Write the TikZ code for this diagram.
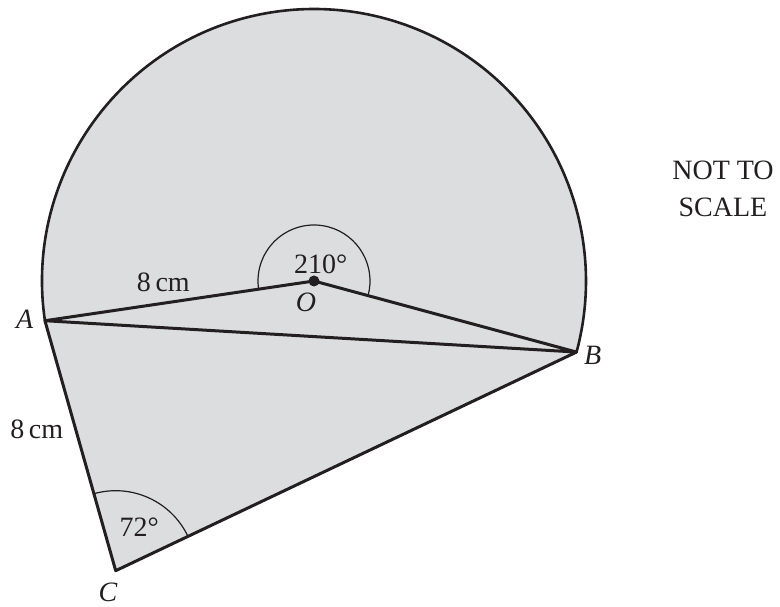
\documentclass[tikz,border=0pt]{standalone}
\usepackage{fontspec}
\setmainfont{Liberation Serif}
\usetikzlibrary{calc}
\definecolor{regiongray}{RGB}{220,221,223}
\definecolor{ink}{RGB}{35,31,32}
\begin{document}
\begin{tikzpicture}[x=1pt,y=1pt,
  region/.style={fill=regiongray, draw=none},
  edge/.style={ink, line width=3pt, line join=round, line cap=round},
  rim/.style={ink, line width=2.6pt, line cap=round},
  anglemark/.style={ink, line width=1.2pt},
  lbl/.style={ink, font=\fontsize{28}{34}\selectfont, inner sep=0pt, anchor=base}]
\useasboundingbox (0,0) rectangle (780,607);
\coordinate (O) at (314,326);
\coordinate (A) at ($(O)+(188.4:272)$);
\coordinate (B) at ($(O)+(-15.15:272)$);
\coordinate (C) at (115.7,36.3);
\coordinate (Os) at ($(O)+(-15.15:56)$);
\coordinate (Cs) at ($(C)+(25.4:80)$);
% shaded region: major segment plus triangle ABC
\path[region] (A) arc[start angle=188.4, end angle=-15.15, radius=272] -- (C) -- cycle;
% outline
\draw[rim] (A) arc[start angle=188.4, end angle=-15.15, radius=272];
\draw[edge] (A) -- (O) -- (B) -- (A) -- (C) -- (B);
% angle marks
\draw[anglemark] (Os) arc[start angle=-15.15, end angle=188.4, radius=56];
\draw[anglemark] (Cs) arc[start angle=25.4, end angle=105.8, radius=80];
\fill[ink] (O) circle (5.5);
% labels
\node[lbl] (lA) at (24.7,278) {\itshape A};
\node[lbl] (lB) at (592.7,242) {\itshape B};
\node[lbl] (lC) at (108,5.3) {\itshape C};
\node[lbl] (lO) at (306,295.3) {\itshape O};
\node[lbl] (l210) at (320.7,333.7) {210°};
\node[lbl] (l72) at (139.2,70.3) {72°};
\node[lbl] (lAO) at (163.3,315.3) {8\,cm};
\node[lbl] (lAC) at (36.7,168.7) {8\,cm};
\node[lbl] (lnot) at (723,427) {NOT TO};
\node[lbl] (lscale) at (723,390.3) {SCALE};
\end{tikzpicture}
\end{document}
